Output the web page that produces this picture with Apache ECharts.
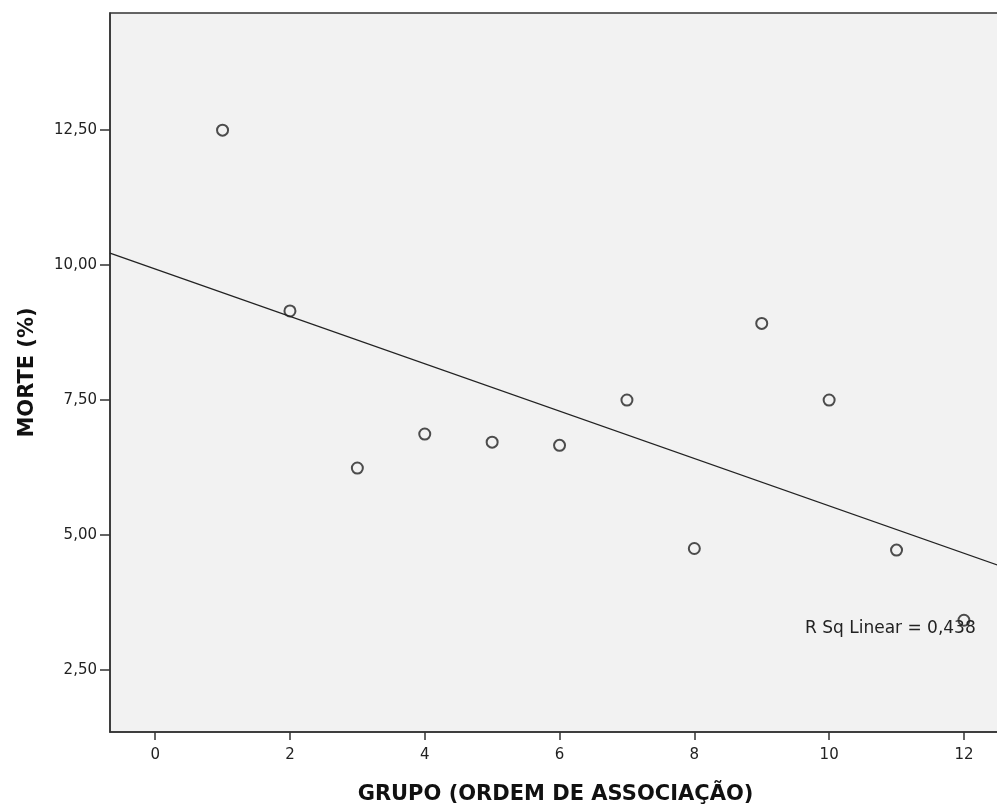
<!DOCTYPE html>
<html>
<head>
<meta charset="utf-8">
<script src="https://cdn.jsdelivr.net/npm/echarts@6/dist/echarts.min.js"></script>
<style>
  html, body { margin: 0; padding: 0; background: #fff; }
  #main { width: 997px; height: 809px; }
</style>
</head>
<body>
<div id="main"></div>
<script>
// groups (x) and death rate (%)
const grupo = [1, 2, 3, 4, 5, 6, 7, 8, 9, 10, 11, 12];
const morte = [12.5, 9.15, 6.24, 6.87, 6.72, 6.66, 7.5, 4.75, 8.92, 7.5, 4.72, 3.42];

// fit line end points, as drawn in the picture
const fitX = [-0.67, 12.55];
const fitY = [10.22, 4.42];

const xTicks = [0, 2, 4, 6, 8, 10, 12];
const yTicks = [2.5, 5, 7.5, 10, 12.5];

const chart = echarts.init(document.getElementById('main'));

const fmtY = v => v.toFixed(2).replace('.', ',');

chart.setOption({
  animation: false,
  backgroundColor: '#fff',
  textStyle: { fontFamily: 'DejaVu Sans' },
  grid: {
    left: 110, top: 13, right: -4, bottom: 77,
    outerBoundsMode: 'none',
    containLabel: false,
    show: true,
    backgroundColor: '#f2f2f2',
    borderColor: '#333',
    borderWidth: 1.5
  },
  xAxis: {
    type: 'value',
    min: -0.67, max: 12.55,
    name: 'GRUPO (ORDEM DE ASSOCIAÇÃO)',
    nameLocation: 'middle',
    nameGap: 52,
    nameTextStyle: { fontSize: 21, fontWeight: 'bold', color: '#111', fontFamily: 'DejaVu Sans' },
    axisLine: { onZero: false, lineStyle: { color: '#333', width: 1.5 } },
    axisTick: { show: true, length: 8, lineStyle: { color: '#333', width: 1.5 }, customValues: xTicks },
    axisLabel: { color: '#222', fontSize: 15, margin: 16, customValues: xTicks },
    splitLine: { show: false }
  },
  yAxis: {
    type: 'value',
    min: 1.35, max: 14.67,
    name: 'MORTE (%)',
    nameLocation: 'middle',
    nameGap: 72,
    nameTextStyle: { fontSize: 21, fontWeight: 'bold', color: '#111', fontFamily: 'DejaVu Sans' },
    axisLine: { show: true, onZero: false, lineStyle: { color: '#333', width: 1.5 } },
    axisTick: { show: true, length: 10, lineStyle: { color: '#333', width: 1.5 }, customValues: yTicks },
    axisLabel: { color: '#222', fontSize: 15, margin: 13, formatter: fmtY, customValues: yTicks },
    splitLine: { show: false }
  },
  series: [
    {
      type: 'line',
      data: fitX.map((x, i) => [x, fitY[i]]),
      symbol: 'none',
      lineStyle: { color: '#222', width: 1.3 },
      z: 2
    },
    {
      type: 'scatter',
      data: grupo.map((x, i) => [x, morte[i]]),
      symbol: 'circle',
      symbolSize: 11,
      itemStyle: { color: 'rgba(242,242,242,0)', borderColor: '#222', borderWidth: 2 },
      z: 3
    }
  ],
  graphic: [
    {
      type: 'text',
      left: 805,
      top: 620,
      style: { text: 'R Sq Linear = 0,438', fontSize: 17, fill: '#222', fontFamily: 'DejaVu Sans' },
      z: 10
    }
  ]
});
</script>
</body>
</html>
